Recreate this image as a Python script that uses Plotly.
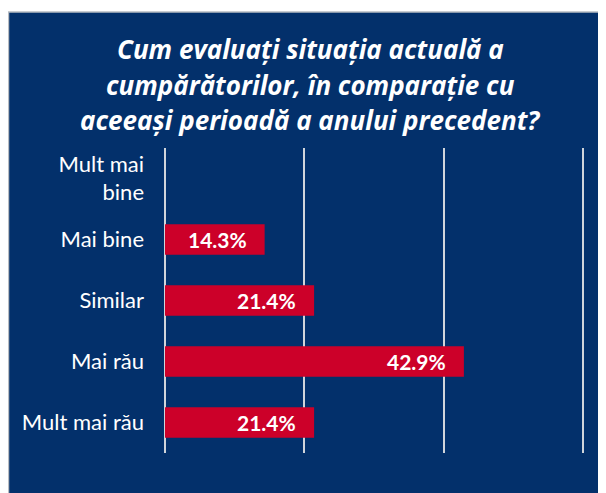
import plotly.graph_objects as go

categories = ["Mult mai<br>bine", "Mai bine", "Similar", "Mai rău", "Mult mai rău"]
values = [0, 14.3, 21.4, 42.9, 21.4]
labels = ["", "14.3%", "21.4%", "42.9%", "21.4%"]
title_lines = ["Cum evaluați situația actuală a",
               "cumpărătorilor, în comparație cu",
               "aceeași perioadă a anului precedent?"]

NAVY = "#03306b"
RED = "#cc0029"
# page has an 8px body margin: figure coordinates = page coordinates - 8
W, H = 598, 485
ML, MR, MT, MB = 157, 16, 140, 40
pw = W - ML - MR
ph = H - MT - MB

fig = go.Figure()
fig.add_trace(go.Bar(
    x=values, y=categories, orientation="h",
    marker=dict(color=RED, line=dict(width=0)),
    width=0.5, hoverinfo="skip",
))

for c, v, t in zip(categories, values, labels):
    if t:
        fig.add_annotation(x=v, y=c, text=t, xanchor="right", yanchor="middle",
                           xshift=-16, showarrow=False,
                           font=dict(family="Lato", size=21, color="white", weight="bold"))

# title, one annotation per line
title_centers = [41, 77, 112]
for line, yc in zip(title_lines, title_centers):
    fig.add_annotation(xref="paper", yref="paper",
                       x=(302 - ML) / pw, y=(H - MB - yc) / ph,
                       xanchor="center", yanchor="middle", showarrow=False,
                       text=line,
                       font=dict(family="Open Sans", size=26, color="white",
                                 weight="bold", style="italic"))

# navy panel with grey border
fig.add_shape(type="rect", xref="paper", yref="paper", layer="below",
              x0=(0.5 - ML) / pw, x1=(W + 10 - ML) / pw,
              y0=-(MB + 10) / ph, y1=(H - MB - 4) / ph,
              fillcolor=NAVY, line=dict(color="#b8bcc2", width=1.5))

fig.update_layout(
    width=W, height=H,
    margin=dict(l=ML, r=MR, t=MT, b=MB),
    paper_bgcolor="white",
    plot_bgcolor="rgba(0,0,0,0)",
    showlegend=False,
    bargap=0.5,
    xaxis=dict(range=[0, 61], tickvals=[0, 20, 40, 60], showticklabels=False,
               showgrid=True, gridcolor="#d0d4da", gridwidth=2,
               zeroline=True, zerolinecolor="#d0d4da", zerolinewidth=2,
               showline=False, fixedrange=True),
    yaxis=dict(autorange="reversed", showgrid=False, showline=False, ticks="",
               ticklabelstandoff=20, fixedrange=True,
               tickfont=dict(family="Lato", size=22, color="white")),
)

fig.write_html("out.html")
